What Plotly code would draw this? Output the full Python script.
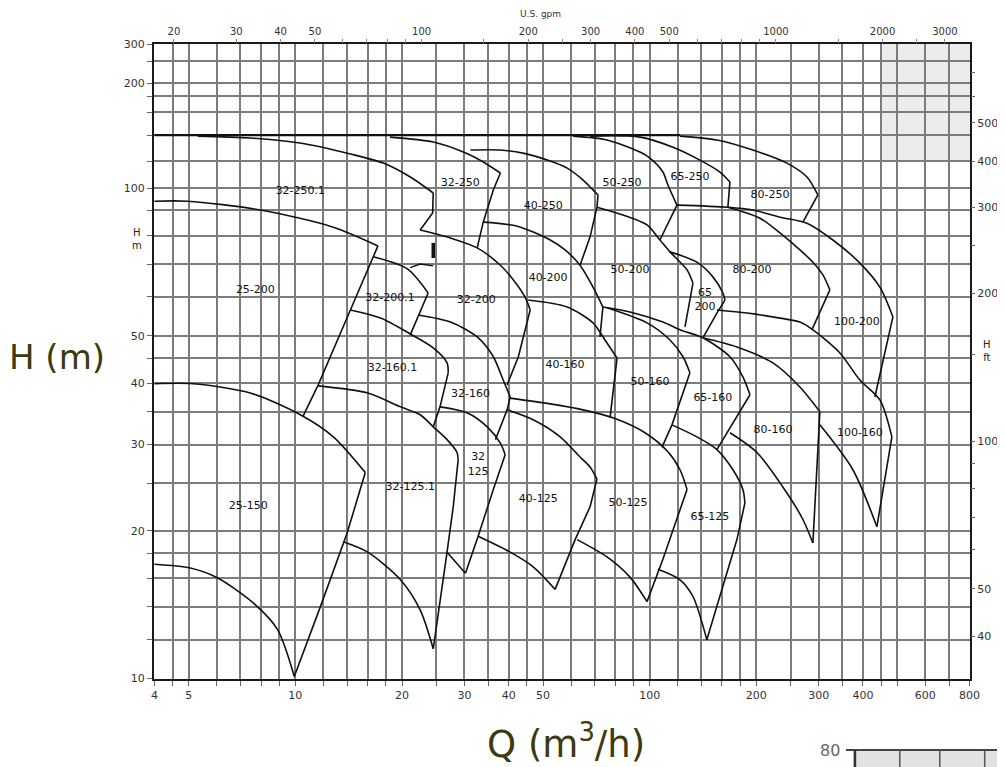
import math
import plotly.graph_objects as go

# ---------------- axis definitions ----------------
q_grid = [4, 4.5, 5, 6, 7, 8, 9, 10, 12, 14, 16, 18, 20, 25, 30, 35, 40, 45, 50,
          60, 70, 80, 90, 100, 120, 140, 160, 180, 200, 250, 300, 350, 400, 450,
          500, 600, 700, 800]
q_labelled = [4, 5, 10, 20, 30, 40, 50, 100, 200, 300, 400, 600, 800]

h_grid = [10, 12, 14, 16, 18, 20, 25, 30, 35, 40, 45, 50, 60, 70, 80, 90, 100,
          113.5, 128.2, 142.8, 154, 163.6, 181.4, 196.3]
h_ticktext = ["10", "", "", "", "", "20", "", "30", "", "40", "", "50", "", "", "", "",
              "100", "", "", "", "", "200", "", "300"]

ft_tickvals = [12.19, 15.24, 18.29, 21.34, 24.38, 27.43, 30.48, 45.72, 60.96, 76.2,
               91.44, 113.5, 135.7, 154.0, 172.3]
ft_ticktext = ["40", "50", "", "", "", "", "100", "", "200", "", "300", "400", "500", "", ""]

gpm_ticks = [20, 30, 40, 50, 60, 70, 80, 90, 100, 150, 200, 250, 300, 400, 500, 600,
             700, 800, 900, 1000, 1500, 2000, 2500, 3000]
gpm_labelled = [20, 30, 40, 50, 100, 200, 300, 400, 500, 1000, 2000, 3000]

# ---------------- pump curves (Q m3/h, H m) ----------------
q_shutoff = [4.0, 121.8]
h_shutoff = [128.2, 128.2]

q_32_250_1 = [5.3, 7.46, 10.3, 14.3, 17.7, 21.1, 24.5, 24.4, 22.5]
h_32_250_1 = [127.6, 126.5, 123.5, 117.3, 112.4, 105.3, 97.7, 88.9, 82.1]
q_32_250 = [18.5, 24.5, 29.8, 33.9, 37.9, 36.2, 33.9, 32.6]
h_32_250 = [127.0, 124.1, 118.4, 113.0, 107.3, 99.1, 85.2, 75.5]
q_40_250 = [31.2, 37.9, 43.9, 52.4, 58.5, 64.9, 69.2, 71.5, 71.0, 67.9, 63.6]
h_40_250 = [119.5, 119.5, 117.8, 113.5, 109.8, 103.8, 99.1, 96.8, 91.4, 79.5, 69.6]
q_50_250 = [60.8, 75.8, 93.9, 100.2, 109.0, 112.6, 119.4, 106.9]
h_50_250 = [127.6, 125.3, 118.4, 115.1, 107.8, 101.4, 92.3, 78.35]
q_65_250 = [67.9, 93.9, 116.4, 138.6, 157.9, 168.5, 166.3]
h_65_250 = [127.6, 127.0, 121.1, 114.0, 107.8, 102.9, 91.4]
q_80_250 = [121.8, 154.8, 195.7, 244.0, 277.9, 298.4, 270.7]
h_80_250 = [127.6, 125.3, 119.5, 112.4, 105.3, 96.8, 85.2]

q_25_200 = [4.0, 4.96, 7.96, 12.8, 17.1, 16.6, 14.3, 11.6, 10.5]
h_25_200 = [94.0, 94.0, 90.2, 83.2, 76.2, 72.4, 56.4, 39.7, 34.2]
q_32_200_1 = [16.6, 20.7, 23.7, 21.1]
h_32_200_1 = [72.4, 68.4, 61.1, 50.2]
q_32_200 = [22.5, 27.4, 32.6, 37.9, 41.2, 44.5, 46.0, 42.6, 39.6]
h_32_200 = [82.1, 79.1, 75.5, 69.6, 65.0, 59.9, 56.4, 45.3, 39.7]
q_40_200 = [33.9, 42.3, 52.4, 57.7, 63.6, 69.2, 73.8, 72.4]
h_40_200 = [85.2, 83.6, 78.35, 74.8, 69.6, 62.8, 57.2, 49.7]
q_50_200 = [71.0, 84.1, 98.3, 106.9, 114.1, 127.5, 132.5, 125.8]
h_50_200 = [91.4, 88.1, 84.1, 78.35, 74.1, 68.1, 64.0, 52.1]
q_65_200 = [114.1, 135.9, 150.8, 161.0, 163.1, 154.8, 141.3]
h_65_200 = [74.1, 70.6, 65.9, 61.1, 59.1, 55.6, 49.5]
q_80_200 = [166.3, 204.8, 233.2, 265.5, 288.9, 308.3, 322.6, 287.0]
h_80_200 = [91.4, 86.8, 81.0, 74.8, 70.6, 66.5, 62.0, 51.4]
q_100_200 = [119.4, 166.3, 195.7, 233.2, 277.9, 329.0, 392.1, 446.5, 485.9, 432.2]
h_100_200 = [92.3, 91.4, 90.2, 87.2, 84.8, 78.35, 70.3, 62.8, 54.6, 37.5]

q_32_160_1 = [14.3, 17.4, 21.1, 24.5, 26.8, 27.0, 25.6, 24.5]
h_32_160_1 = [56.4, 54.3, 50.4, 47.2, 44.0, 42.0, 35.8, 32.6]
q_32_160 = [22.2, 27.4, 32.6, 36.2, 38.6, 40.4, 39.6, 36.7]
h_32_160 = [55.1, 53.3, 49.7, 45.3, 40.6, 37.5, 35.3, 30.7]
q_40_160 = [45.4, 58.5, 69.2, 74.8, 80.9, 77.3]
h_40_160 = [59.1, 57.2, 53.1, 49.0, 45.0, 34.0]
q_50_160 = [75.8, 98.3, 114.1, 124.2, 129.9, 115.6, 108.3]
h_50_160 = [57.0, 53.1, 49.0, 45.3, 42.0, 32.9, 29.6]
q_65_160 = [73.8, 88.0, 109.0, 121.8, 141.3, 168.5, 183.3, 191.9, 154.8]
h_65_160 = [57.2, 55.9, 53.3, 51.4, 49.5, 45.3, 41.2, 37.9, 29.3]
q_80_160 = [141.3, 176.3, 222.8, 265.5, 302.3, 288.9]
h_80_160 = [49.5, 47.4, 44.0, 39.3, 35.0, 18.9]
q_80_160_min = [168.5, 200.8, 244.0, 270.7, 288.9]
h_80_160_min = [31.7, 28.9, 23.9, 21.1, 18.9]
q_100_160 = [154.8, 188.2, 233.2, 265.5, 288.9, 344.3, 392.1, 446.5, 482.7, 437.9]
h_100_160 = [56.4, 55.6, 54.3, 53.3, 51.4, 46.1, 40.6, 37.0, 31.1, 20.4]
q_100_160_min = [302.3, 374.6, 437.9]
h_100_160_min = [32.9, 26.65, 20.4]

q_25_150 = [4.0, 5.15, 7.46, 10.33, 12.8, 15.75, 14.0, 11.76, 9.93]
h_25_150 = [39.9, 39.9, 38.2, 34.5, 31.1, 26.3, 19.8, 14.0, 10.1]
q_25_150_min = [4.0, 5.05, 6.02, 7.66, 8.9, 9.93]
h_25_150_min = [17.1, 16.8, 16.05, 14.2, 12.6, 10.1]
q_32_125_1 = [11.6, 16.0, 19.8, 22.5, 24.5, 26.8, 28.6, 28.8, 27.9, 26.8, 24.5]
h_32_125_1 = [39.5, 38.2, 35.8, 34.5, 32.6, 30.7, 28.9, 27.9, 22.4, 18.1, 11.5]
q_32_125_1_min = [13.65, 16.0, 19.8, 22.5, 24.5]
h_32_125_1_min = [19.0, 18.1, 15.9, 13.8, 11.5]
q_32_125 = [25.6, 30.6, 34.8, 37.9, 39.1, 36.2, 32.8, 30.2]
h_32_125 = [35.8, 34.8, 32.6, 30.2, 28.6, 24.3, 19.5, 16.4]
q_32_125_min = [26.8, 30.2]
h_32_125_min = [18.1, 16.4]
q_40_125 = [39.6, 46.9, 55.9, 63.6, 67.9, 71.0, 67.9, 61.6, 54.1]
h_40_125 = [35.3, 33.7, 31.1, 28.3, 27.0, 25.5, 22.4, 19.2, 15.2]
q_40_125_min = [32.8, 40.4, 46.9, 54.1]
h_40_125_min = [19.5, 18.1, 16.9, 15.2]
q_50_125 = [40.4, 52.4, 64.9, 78.8, 97.0, 112.6, 121.8, 127.5, 109.0, 98.3]
h_50_125 = [37.3, 36.3, 35.3, 34.0, 31.7, 29.0, 26.65, 24.3, 17.5, 14.35]
q_50_125_min = [62.4, 75.8, 88.0, 98.3]
h_50_125_min = [19.2, 17.7, 16.1, 14.35]
q_65_125 = [115.6, 135.9, 154.8, 171.8, 183.3, 185.7, 176.3, 145.0]
h_65_125 = [32.9, 31.1, 29.3, 26.65, 24.3, 22.8, 19.2, 12.0]
q_65_125_min = [105.5, 121.8, 132.5, 145.0]
h_65_125_min = [16.7, 15.9, 14.7, 12.0]

# small ink marks in the scan
q_mark_a = [24.5, 24.5]
h_mark_a = [77.3, 72.0]
q_mark_b = [21.1, 22.5, 24.5]
h_mark_b = [68.8, 70.0, 69.4]

# (curve, number of points on the smooth H-Q part; rest = straight edge)
pumps = [
    (q_32_250_1, h_32_250_1, 7), (q_32_250, h_32_250, 5), (q_40_250, h_40_250, 8),
    (q_50_250, h_50_250, 7), (q_65_250, h_65_250, 6), (q_80_250, h_80_250, 6),
    (q_25_200, h_25_200, 5), (q_32_200_1, h_32_200_1, 3), (q_32_200, h_32_200, 7),
    (q_40_200, h_40_200, 7), (q_50_200, h_50_200, 7), (q_65_200, h_65_200, 5),
    (q_80_200, h_80_200, 7), (q_100_200, h_100_200, 9),
    (q_32_160_1, h_32_160_1, 6), (q_32_160, h_32_160, 6), (q_40_160, h_40_160, 5),
    (q_50_160, h_50_160, 5), (q_65_160, h_65_160, 8), (q_80_160, h_80_160, 5),
    (q_80_160_min, h_80_160_min, 5), (q_100_160, h_100_160, 9),
    (q_100_160_min, h_100_160_min, 3),
    (q_25_150, h_25_150, 6), (q_25_150_min, h_25_150_min, 6),
    (q_32_125_1, h_32_125_1, 8), (q_32_125_1_min, h_32_125_1_min, 5),
    (q_32_125, h_32_125, 5), (q_32_125_min, h_32_125_min, 2),
    (q_40_125, h_40_125, 6), (q_40_125_min, h_40_125_min, 4),
    (q_50_125, h_50_125, 8), (q_50_125_min, h_50_125_min, 4),
    (q_65_125, h_65_125, 6), (q_65_125_min, h_65_125_min, 4),
]

# ---------------- pump labels ----------------
label_text = ["32-250.1", "32-250", "40-250", "50-250", "65-250", "80-250",
              "25-200", "32-200.1", "32-200", "40-200", "50-200", "65<br>200", "80-200", "100-200",
              "32-160.1", "32-160", "40-160", "50-160", "65-160", "80-160", "100-160",
              "25-150", "32-125.1", "32<br>125", "40-125", "50-125", "65-125"]
label_q = [10.33, 29.2, 50.1, 83.6, 129.9, 218.5,
           7.71, 18.5, 32.4, 51.7, 88.0, 143.2, 194.4, 384.5,
           18.8, 31.2, 57.7, 100.2, 150.8, 222.8, 392.1,
           7.36, 21.1, 32.8, 48.5, 86.9, 147.9]
label_h = [98.6, 102.4, 91.8, 102.4, 105.3, 96.8,
           62.0, 59.7, 59.1, 65.6, 68.1, 59.1, 68.1, 53.3,
           43.0, 37.9, 43.6, 40.2, 37.2, 32.1, 31.7,
           22.5, 24.5, 27.3, 23.15, 22.8, 21.3]

INK = "#111111"
GRID = "#7c7c7c"
FONT = "DejaVu Sans"

fig = go.Figure()

def line_trace(x, y, shape="linear", width=1.6):
    return go.Scatter(x=x, y=y, mode="lines", hoverinfo="skip", showlegend=False,
                      line=dict(color=INK, width=width, shape=shape,
                                smoothing=0.8 if shape == "spline" else None))

fig.add_trace(line_trace(q_shutoff, h_shutoff, width=2.2))
for q, h, k in pumps:
    fig.add_trace(line_trace(q[:k], h[:k], shape="spline"))
    if k < len(q):
        fig.add_trace(line_trace(q[k - 1:], h[k - 1:]))
fig.add_trace(line_trace(q_mark_a, h_mark_a, width=3.5))
fig.add_trace(line_trace(q_mark_b, h_mark_b, width=1.4))

fig.add_trace(go.Scatter(x=label_q, y=label_h, text=label_text, mode="text",
                         textfont=dict(family=FONT, size=11, color=INK),
                         hoverinfo="skip", showlegend=False))

# dummy traces that activate the secondary (gpm / ft) axes
fig.add_trace(go.Scatter(x=[None], y=[None], xaxis="x2", yaxis="y", showlegend=False, hoverinfo="skip"))
fig.add_trace(go.Scatter(x=[None], y=[None], xaxis="x", yaxis="y2", showlegend=False, hoverinfo="skip"))

xr = [math.log10(3.99), math.log10(802)]
yr = [math.log10(9.98), math.log10(196.6)]


def note(text, x, y, size, color="#222"):
    return dict(text=text, xref="paper", yref="paper", x=x, y=y, showarrow=False,
                xanchor="center", yanchor="middle",
                font=dict(family=FONT, size=size, color=color))


fig.update_layout(
    width=997, height=759,
    margin=dict(l=146, r=35, t=36, b=88, autoexpand=False),
    paper_bgcolor="white", plot_bgcolor="white",
    showlegend=False,
    font=dict(family=FONT, size=11, color="#333"),
    xaxis=dict(type="log", range=xr, tickmode="array", tickvals=q_grid,
               ticktext=[str(v) if v in q_labelled else "" for v in q_grid],
               showgrid=True, gridcolor=GRID, gridwidth=1.5,
               ticks="outside", ticklen=5, tickcolor="#666", automargin=False,
               showline=True, linecolor="#1a1a1a", linewidth=2, mirror=True,
               zeroline=False, tickfont=dict(size=11, color="#333")),
    xaxis2=dict(type="log", range=xr, overlaying="x", side="top", anchor="y",
                tickmode="array", tickvals=[g * 0.22712 for g in gpm_ticks],
                ticktext=[str(g) if g in gpm_labelled else "" for g in gpm_ticks],
                ticks="outside", ticklen=4, tickcolor="#888", showgrid=False, automargin=False,
                showline=False, zeroline=False, tickfont=dict(size=10, color="#333")),
    yaxis=dict(type="log", range=yr, tickmode="array", tickvals=h_grid, ticktext=h_ticktext,
               showgrid=True, gridcolor=GRID, gridwidth=1.5,
               ticks="outside", ticklen=5, tickcolor="#666", automargin=False,
               showline=True, linecolor="#1a1a1a", linewidth=2, mirror=True,
               zeroline=False, tickfont=dict(size=11, color="#333")),
    yaxis2=dict(type="log", range=yr, overlaying="y", side="right", anchor="x",
                tickmode="array", tickvals=ft_tickvals, ticktext=ft_ticktext,
                ticks="outside", ticklen=4, tickcolor="#666", showgrid=False, automargin=False,
                showline=False, zeroline=False, tickfont=dict(size=11, color="#333")),
    shapes=[
        dict(type="rect", xref="paper", yref="paper", x0=0.89, x1=1.0, y0=0.817, y1=1.0,
             fillcolor="#ececec", line=dict(width=0), layer="below"),
        dict(type="rect", xref="paper", yref="paper", x0=0.857, x1=1.05, y0=-0.14, y1=-0.112,
             fillcolor="#e2e2e2", line=dict(width=0)),
        dict(type="line", xref="paper", yref="paper", x0=0.848, x1=1.05, y0=-0.112, y1=-0.112,
             line=dict(color="#444", width=2)),
        dict(type="line", xref="paper", yref="paper", x0=0.859, x1=0.859, y0=-0.14, y1=-0.112,
             line=dict(color="#333", width=2.5)),
        dict(type="line", xref="paper", yref="paper", x0=0.914, x1=0.914, y0=-0.14, y1=-0.112,
             line=dict(color="#555", width=1.5)),
        dict(type="line", xref="paper", yref="paper", x0=0.963, x1=0.963, y0=-0.14, y1=-0.112,
             line=dict(color="#555", width=1.5)),
        dict(type="line", xref="paper", yref="paper", x0=1.018, x1=1.018, y0=-0.14, y1=-0.112,
             line=dict(color="#555", width=1.5)),
    ],
    annotations=[
        note("H (m)", -0.119, 0.507, 34, "#3d3a0e"),
        note("Q (m<sup>3</sup>/h)", 0.505, -0.099, 37, "#3d3a0e"),
        note("H<br>m", -0.0205, 0.693, 10),
        note("H<br>ft", 1.021, 0.5165, 10),
        note("U.S. gpm", 0.474, 1.047, 9, "#333"),
        note("80", 0.828, -0.112, 16, "#666"),
    ],
)

fig.write_html("out.html")
